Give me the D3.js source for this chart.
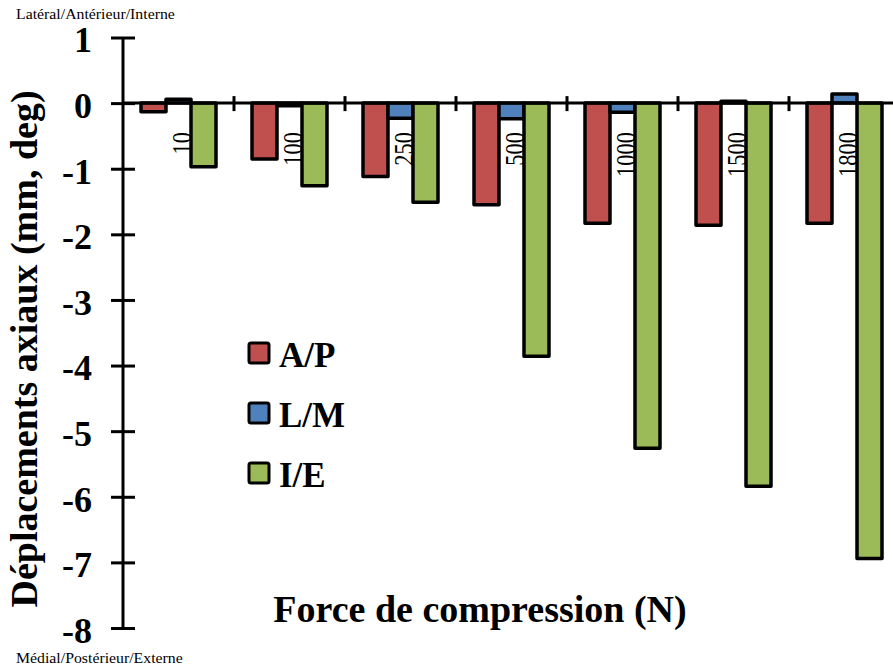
<!DOCTYPE html>
<html>
<head>
<meta charset="utf-8">
<script src="https://cdn.jsdelivr.net/npm/d3@7"></script>
<style>
  body { margin: 0; background: #fff; }
  svg { display: block; }
  svg text { font-family: "Liberation Serif", "Times New Roman", Times, serif; fill: #000; }
</style>
</head>
<body>
<div id="chart"></div>
<script>
// data
const forces = ['10', '100', '250', '500', '1000', '1500', '1800'];
const seriesNames = ['A/P', 'L/M', 'I/E'];
const apValues = [-0.13, -0.85, -1.12, -1.55, -1.83, -1.86, -1.83];
const lmValues = [0.06, -0.04, -0.23, -0.24, -0.14, 0.03, 0.14];
const ieValues = [-0.97, -1.26, -1.51, -3.86, -5.26, -5.84, -6.94];
const yTicks = [1, 0, -1, -2, -3, -4, -5, -6, -7, -8];
const colors = ['#C0504D', '#4F81BD', '#9BBB59'];

const width = 893;
const height = 668;
const serif = '"Liberation Serif", "Times New Roman", Times, serif';

const svg = d3
  .select('#chart')
  .append('svg')
  .attr('width', width)
  .attr('height', height)
  .attr('font-family', serif);

const xScale = d3.scaleBand().domain(forces).range([123, 900]).padding(0);
const xInner = d3
  .scaleBand()
  .domain(seriesNames)
  .range([0, xScale.bandwidth()])
  .paddingInner(0)
  .paddingOuter(0.72);
const yScale = d3.scaleLinear().domain([-8, 1]).range([628, 37.5]);

const table = forces.map((f, i) => ({
  force: f,
  values: [apValues[i], lmValues[i], ieValues[i]]
}));

// bars
const groups = svg
  .selectAll('g.group')
  .data(table)
  .join('g')
  .attr('class', 'group')
  .attr('transform', (d) => `translate(${xScale(d.force)},0)`);

groups
  .selectAll('rect')
  .data((d) => d.values.map((v, k) => ({ name: seriesNames[k], value: v, k })))
  .join('rect')
  .attr('x', (d) => xInner(d.name))
  .attr('width', xInner.bandwidth())
  .attr('y', (d) => yScale(Math.max(0, d.value)))
  .attr('height', (d) => Math.abs(yScale(d.value) - yScale(0)))
  .attr('fill', (d) => colors[d.k])
  .attr('stroke', '#000')
  .attr('stroke-width', 3.5)
  .attr('stroke-linejoin', 'round');

// y axis
const yAxis = d3
  .axisLeft(yScale)
  .tickValues(yTicks)
  .tickSize(0)
  .tickFormat(d3.format('d'));
const yG = svg.append('g').attr('transform', 'translate(123,0)').call(yAxis);
yG.attr('font-family', null).attr('font-size', null);
yG.select('.domain').remove();
yG
  .append('line')
  .attr('y1', yScale(1))
  .attr('y2', yScale(-8))
  .attr('stroke', '#000')
  .attr('stroke-width', 3);
yG
  .selectAll('.tick line')
  .attr('x1', -12)
  .attr('x2', 12)
  .attr('stroke', '#000')
  .attr('stroke-width', 3);
yG
  .selectAll('.tick text')
  .attr('x', -31)
  .attr('dy', '0.4em')
  .attr('font-family', serif)
  .attr('font-size', 36)
  .attr('font-weight', 'bold')
  .attr('fill', '#000')
  .text((d) => (d < 0 ? '-' + Math.abs(d) : d));

// x axis on the zero line
const xG = svg.append('g').attr('transform', `translate(0,${yScale(0)})`);
xG
  .append('line')
  .attr('x1', 123)
  .attr('x2', width)
  .attr('stroke', '#000')
  .attr('stroke-width', 3);
xG
  .selectAll('line.cat-tick')
  .data(forces.slice(1))
  .join('line')
  .attr('class', 'cat-tick')
  .attr('x1', (d) => xScale(d))
  .attr('x2', (d) => xScale(d))
  .attr('y1', -7)
  .attr('y2', 8)
  .attr('stroke', '#000')
  .attr('stroke-width', 3);

// category labels, rotated under the middle bar
svg
  .selectAll('text.cat')
  .data(forces)
  .join('text')
  .attr('class', 'cat')
  .attr('transform', (d) => {
    const cx = xScale(d) + xScale.bandwidth() / 2 + 3;
    return `translate(${cx},${yScale(0) + 29}) rotate(-90) scale(0.8,1)`;
  })
  .attr('text-anchor', 'end')
  .attr('dy', '0.35em')
  .attr('font-size', 28)
  .text((d) => d);

// axis titles
svg
  .append('text')
  .attr('transform', 'translate(37,349) rotate(-90)')
  .attr('text-anchor', 'middle')
  .attr('font-size', 38)
  .attr('font-weight', 'bold')
  .text('Déplacements axiaux (mm, deg)');

svg
  .append('text')
  .attr('x', 480)
  .attr('y', 622)
  .attr('text-anchor', 'middle')
  .attr('font-size', 38)
  .attr('font-weight', 'bold')
  .text('Force de compression (N)');

// direction notes
svg
  .append('text')
  .attr('transform', 'translate(16,19) scale(1.13,1)')
  .attr('font-size', 14)
  .text('Latéral/Antérieur/Interne');
svg
  .append('text')
  .attr('transform', 'translate(16,663) scale(1.13,1)')
  .attr('font-size', 14)
  .text('Médial/Postérieur/Externe');

// legend
const legend = svg
  .selectAll('g.legend')
  .data(seriesNames)
  .join('g')
  .attr('class', 'legend')
  .attr('transform', (d, i) => `translate(249,${343 + i * 60})`);
legend
  .append('rect')
  .attr('width', 20)
  .attr('height', 20)
  .attr('rx', 2)
  .attr('fill', (d, i) => colors[i])
  .attr('stroke', '#000')
  .attr('stroke-width', 3);
legend
  .append('text')
  .attr('x', 30)
  .attr('y', 24)
  .attr('font-size', 35)
  .attr('font-weight', 'bold')
  .text((d) => d);
</script>
</body>
</html>
